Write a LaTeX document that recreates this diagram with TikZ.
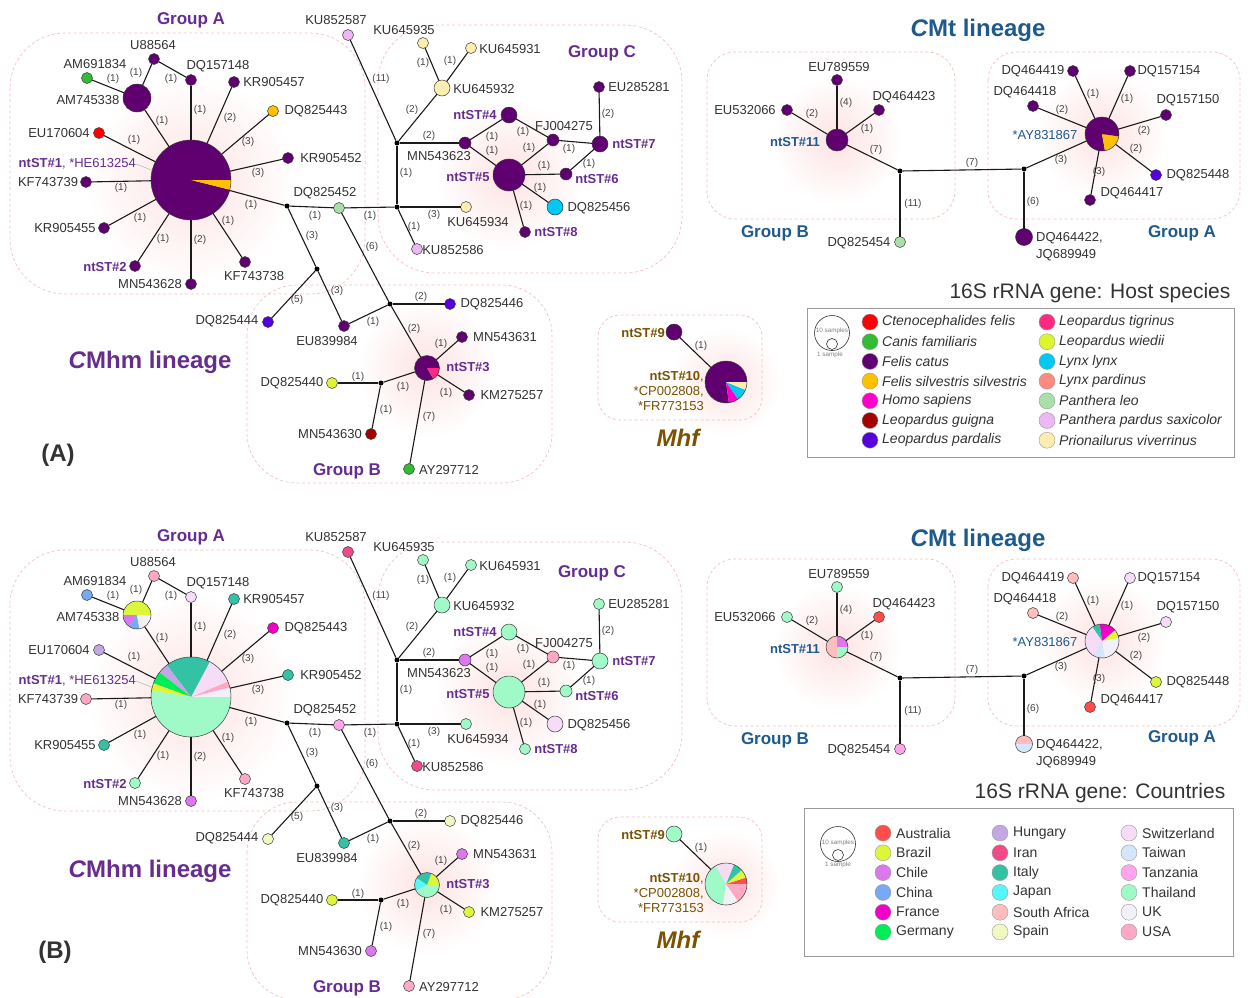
\documentclass[tikz,border=0pt]{standalone}
\usepackage{fontspec}
\setmainfont{Liberation Sans}
\usetikzlibrary{calc}
% host colours
\definecolor{h-cfel}{HTML}{FF0000}
\definecolor{h-cfam}{HTML}{33BB33}
\definecolor{h-fcat}{HTML}{600070}
\definecolor{h-fsil}{HTML}{FFC000}
\definecolor{h-hsap}{HTML}{FF00CC}
\definecolor{h-lgui}{HTML}{A30000}
\definecolor{h-lpar}{HTML}{5500DD}
\definecolor{h-ltig}{HTML}{FF2A80}
\definecolor{h-lwie}{HTML}{DDF530}
\definecolor{h-llyn}{HTML}{00C8F0}
\definecolor{h-lpdn}{HTML}{FF8A80}
\definecolor{h-pleo}{HTML}{A8E0A8}
\definecolor{h-ppsa}{HTML}{EDB6F5}
\definecolor{h-pviv}{HTML}{FFEDB0}
% country colours
\definecolor{k-aus}{HTML}{FF4D4D}
\definecolor{k-bra}{HTML}{DDF53A}
\definecolor{k-chi}{HTML}{DD77EE}
\definecolor{k-cn}{HTML}{77AAF5}
\definecolor{k-fra}{HTML}{F000C8}
\definecolor{k-ger}{HTML}{00EE55}
\definecolor{k-hun}{HTML}{C2A8E2}
\definecolor{k-iran}{HTML}{F04A8A}
\definecolor{k-ita}{HTML}{33C2A3}
\definecolor{k-jap}{HTML}{55F8FA}
\definecolor{k-saf}{HTML}{FFBEBE}
\definecolor{k-spa}{HTML}{F2F8C2}
\definecolor{k-swi}{HTML}{F7DCF8}
\definecolor{k-twn}{HTML}{D5E6FA}
\definecolor{k-tan}{HTML}{FFA5EC}
\definecolor{k-tha}{HTML}{A0FAC8}
\definecolor{k-uk}{HTML}{F2F0F8}
\definecolor{k-usa}{HTML}{FFA8C6}
% others
\definecolor{ndborder}{HTML}{3A3A3A}
\definecolor{lnkc}{HTML}{1A1A1A}
\definecolor{elc}{HTML}{444444}
\definecolor{labc}{HTML}{333333}
\definecolor{purp}{HTML}{662D91}
\definecolor{cblue}{HTML}{1F5A8C}
\definecolor{mbrown}{HTML}{7A5200}
\definecolor{boxc}{HTML}{F7C0C0}
\definecolor{glowc}{HTML}{FDE2E2}
\definecolor{legc}{HTML}{999999}

\tikzset{
 nd/.style={circle, draw=ndborder, line width=0.5pt, inner sep=0pt, outer sep=0pt},
 jn/.style={circle, fill=black, inner sep=0pt, minimum size=5pt},
 lnk/.style={draw=lnkc, line width=1.1pt},
 el/.style={font=\fontsize{10}{11}\selectfont, text=elc, inner sep=0pt},
 lbl/.style={font=\fontsize{13}{15}\selectfont, text=labc, inner sep=0pt},
 nst/.style={font=\fontsize{13}{15}\selectfont\bfseries, text=purp, inner sep=0pt},
 grp/.style={draw=boxc, dash pattern=on 3pt off 2.5pt, line width=0.7pt, rounded corners=#1},
 ttl/.style={font=\fontsize{17}{20}\selectfont\bfseries, inner sep=0pt},
 big/.style={font=\fontsize{24}{28}\selectfont\bfseries, inner sep=0pt},
 legdot/.style={circle, draw=gray!80, line width=0.4pt, minimum size=16pt, inner sep=0pt},
 legtxt/.style={anchor=west, font=\fontsize{14}{16}\selectfont, text=labc, inner sep=0pt},
 tinytxt/.style={font=\fontsize{6.3}{7}\selectfont, text=gray, inner sep=0pt},
 szc/.style={circle, draw=labc, line width=0.6pt, inner sep=0pt},
}

% pie node: #1 name, #2 centre, #3 radius, #4 list start/end/colour (angles ccw)
\newcommand{\pie}[4]{%
  \foreach \sa/\ea/\cc in {#4}{%
    \fill[fill=\cc] (#2) -- ++(-\sa:#3) arc[start angle=-\sa, end angle=-\ea, radius=#3] -- cycle;}%
  \node[nd, minimum size={2*#3pt}] (#1) at (#2) {};}

\newcommand{\leftnet}[2]{%
\draw[grp=55pt] (10,33) rectangle (365,294);
\draw[grp=57pt] (378,25) rectangle (682,273);
\draw[grp=50pt] (247,285) rectangle (552,483);
\foreach \n/\x/\y in {j1/287/206, j2/397/207, j3/317/269, j4/390/304, j5/381/383, j6/397/143}
  \node[jn] (#1\n) at (\x,\y) {};
\foreach \n/\x/\y/\rr/\ca/\cb in {am691/87/78/5.5/h-cfam/k-cn, u885/154/59/5.5/h-fcat/k-usa,
  dq1571/191/80/5.5/h-fcat/k-swi, kr9057/234/82/5.5/h-fcat/k-ita, dq8443/273/111/5.5/h-fsil/k-fra,
  kr9052/288/158/5.5/h-fcat/k-ita, eu1706/99/133/5.5/h-cfel/k-hun, kf7439/86/182/5.5/h-fcat/k-usa,
  kr9055/104/228/5.5/h-fcat/k-ita, nt2/135/266/5.5/h-fcat/k-tha, mn3628/191/284/5.5/h-fcat/k-chi,
  kf7438/245/262/5.5/h-fcat/k-usa, dq5452/339/208/5.5/h-pleo/k-tan, ku2587/348/35/5.5/h-ppsa/k-iran,
  ku5935/423/43/5.5/h-pviv/k-tha, ku5931/471/48/5.5/h-pviv/k-tha, ku5932/442/88/8/h-pviv/k-tha,
  eu5281/599/87/5.5/h-fcat/k-tha, nt4/509/115/8/h-fcat/k-tha, mn3623/465/143/6/h-fcat/k-chi,
  fj4275/553/140/6/h-fcat/k-usa, nt7/600/144/8/h-fcat/k-tha, nt5/509/175/16/h-fcat/k-tha,
  nt6/566/174/6/h-fcat/k-tha, dq5456/555/207/8/h-llyn/k-swi, nt8/525/232/5.5/h-fcat/k-tha,
  ku5934/466/207/5.5/h-pviv/k-tha, ku2586/417/249/5.5/h-ppsa/k-iran, dq5444/268/322/5.5/h-lpar/k-spa,
  eu9984/344/326/5.5/h-fcat/k-ita, dq5446/450/304/5.5/h-lpar/k-spa, mn3631/462/337/5.5/h-fcat/k-chi,
  km7257/469/395/5.5/h-fcat/k-bra, dq5440/332/383/5.5/h-lwie/k-bra, mn3630/371/434/5.5/h-lgui/k-chi,
  ay7712/409/469/5.5/h-cfam/k-usa}{%
  \ifnum#2=1 \def\cc{\ca}\else\def\cc{\cb}\fi
  \node[nd, minimum size={2*\rr pt}, fill=\cc] (#1\n) at (\x,\y) {};}
\ifnum#2=1
  \pie{#1n1}{191,180}{40}{0/346/h-fcat, 346/360/h-fsil}
  \pie{#1am745}{137,98}{14}{0/360/h-fcat}
  \pie{#1nt3}{427,368}{12.5}{0/300/h-fcat, 300/360/h-ltig}
\else
  \pie{#1n1}{191,180}{40}{0/14/k-uk, 14/23/k-usa, 23/62/k-swi, 62/127/k-ita, 127/142/k-hun, 142/160/k-ger, 160/171/k-bra, 171/360/k-tha}
  \pie{#1am745}{137,98}{14}{0/180/k-bra, 180/235/k-chi, 235/280/k-cn, 280/360/k-uk}
  \pie{#1nt3}{427,368}{12.5}{0/70/k-bra, 70/146/k-ita, 146/208/k-jap, 208/360/k-tha}
\fi
\foreach \na/\nb in {n1/am745, am745/am691, am745/u885, u885/dq1571, n1/dq1571, n1/kr9057, n1/dq8443,
  n1/kr9052, n1/eu1706, n1/kf7439, n1/kr9055, n1/nt2, n1/mn3628, n1/kf7438, n1/j1, j1/dq5452,
  dq5452/j2, j1/j3, j3/dq5444, j3/eu9984, eu9984/j4, j4/dq5446, dq5452/j4, j4/nt3, nt3/mn3631,
  nt3/km7257, nt3/j5, j5/dq5440, j5/mn3630, nt3/ay7712, j2/j6, j6/ku2587, j6/ku5932, ku5932/ku5935,
  ku5932/ku5931, j6/mn3623, mn3623/nt4, mn3623/nt5, nt4/fj4275, nt5/fj4275, fj4275/nt7, nt7/eu5281,
  nt5/nt6, nt6/nt7, nt5/dq5456, nt5/nt8, j2/ku5934, j2/ku2586}
  \draw[lnk] (#1\na) -- (#1\nb);
\foreach \x/\y/\tx in {113/79/(1), 136/73/(1), 171/79/(1), 162/121/(1), 200/110/(1), 230/118/(2),
  248/142/(3), 258/173/(3), 134/140/(1), 121/188/(1), 140/218/(1), 163/239/(1), 200/240/(2),
  228/221/(1), 251/205/(1), 315/216/(1), 370/216/(1), 312/236/(3), 337/291/(3), 297/300/(5),
  372/247/(6), 381/79/(11), 412/110/(2), 423/63/(1), 450/61/(1), 429/136/(2), 406/173/(1),
  434/215/(3), 414/227/(1), 492/137/(1), 492/151/(1), 523/132/(1), 529/148/(1), 569/149/(1),
  608/114/(2), 544/166/(1), 589/164/(1), 540/188/(1), 526/206/(1), 373/322/(1), 421/297/(2),
  414/329/(2), 441/344/(1), 446/393/(1), 403/387/(1), 358/377/(1), 386/410/(1), 429/417/(7)}
  \node[el] (#1e\x-\y) at (\x,\y) {\tx};
\foreach \x/\y/\tx in {95/64/AM691834, 153/45/U88564, 218/66/DQ157148, 274/82/KR905457,
  88/100/AM745338, 316/111/DQ825443, 59/133/EU170604, 331/158/KR905452, 48/182/KF743739,
  65/228/KR905455, 150/284/MN543628, 254/276/KF743738, 325/193/DQ825452, 336/20/KU852587,
  404/30/KU645935, 510/49/KU645931, 484/89/KU645932, 639/87/EU285281, 439/156/MN543623,
  564/126/FJ004275, 599/208/DQ825456, 478/222/KU645934, 453/250/KU852586, 227/321/DQ825444,
  327/341/EU839984, 492/304/DQ825446, 505/337/MN543631, 512/395/KM275257, 292/383/DQ825440,
  330/434/MN543630, 449/470/AY297712}
  \node[lbl] (#1t\x-\y) at (\x,\y) {\tx};
\foreach \x/\y/\tx in {105/267/ntST\#2, 475/115/ntST\#4, 634/144/ntST\#7, 468/177/ntST\#5,
  597/179/ntST\#6, 556/232/ntST\#8, 468/367/ntST\#3}
  \node[nst] (#1t\x-\y) at (\x,\y) {\tx};
\node[lbl, text=purp, anchor=east] (#1t1) at (136,164) {\textbf{ntST\#1}, *HE613254};
\draw[gray!70, line width=0.4pt] (#1t1.east) -- (#1n1.166);
}

\newcommand{\cmtnet}[2]{%
\draw[grp=28pt] (707,52) rectangle (955,219);
\draw[grp=28pt] (988,52) rectangle (1240,219);
\node[jn] (#1j7) at (900,171) {};
\node[jn] (#1j8) at (1024,169) {};
\foreach \n/\x/\y/\rr/\ca/\cb in {eu9559/837/80/5.5/h-fcat/k-tha, eu2066/787/110/5.5/h-fcat/k-tha,
  dq4423/879/110/5.5/h-fcat/k-aus, dq5454/900/242/5.5/h-pleo/k-tan, dq4419/1073/71/5.5/h-fcat/k-saf,
  dq7154/1130/71/5.5/h-fcat/k-swi, dq4418/1033/106/5.5/h-fcat/k-saf, dq7150/1166/115/5.5/h-fcat/k-swi,
  dq5448/1156/175/5.5/h-lpar/k-bra, dq4417/1090/200/5.5/h-fcat/k-aus}{%
  \ifnum#2=1 \def\cc{\ca}\else\def\cc{\cb}\fi
  \node[nd, minimum size={2*\rr pt}, fill=\cc] (#1\n) at (\x,\y) {};}
\ifnum#2=1
  \pie{#1nt11}{837,140}{11}{0/360/h-fcat}
  \pie{#1dq4422}{1024,237}{8.5}{0/360/h-fcat}
  \pie{#1ay1867}{1102,134}{17}{0/280/h-fcat, 280/352/h-fsil, 352/360/h-fcat}
\else
  \pie{#1nt11}{837,140}{11}{0/90/k-chi, 90/270/k-saf, 270/360/k-tha}
  \pie{#1dq4422}{1024,237}{8.5}{0/180/k-saf, 180/360/k-twn}
  \pie{#1ay1867}{1102,134}{17}{10/40/k-bra, 40/98/k-fra, 98/125/k-ita, 125/240/k-swi, 240/280/k-twn, 280/370/k-uk}
\fi
\foreach \na/\nb in {nt11/eu9559, nt11/eu2066, nt11/dq4423, nt11/j7, j7/j8, j7/dq5454, j8/dq4422,
  j8/ay1867, ay1867/dq4419, ay1867/dq7154, ay1867/dq4418, ay1867/dq7150, ay1867/dq5448, ay1867/dq4417}
  \draw[lnk] (#1\na) -- (#1\nb);
\foreach \x/\y/\tx in {846/103/(4), 812/114/(2), 867/129/(1), 876/150/(7), 972/163/(7), 913/204/(11),
  1033/202/(6), 1061/160/(3), 1093/94/(1), 1127/99/(1), 1062/110/(2), 1144/131/(2), 1136/149/(2), 1099/172/(3)}
  \node[el] (#1e\x-\y) at (\x,\y) {\tx};
\foreach \x/\y/\tx in {839/67/EU789559, 745/110/EU532066, 904/97/DQ464423, 859/243/DQ825454,
  1033/71/DQ464419, 1169/71/DQ157154, 1025/92/DQ464418, 1188/100/DQ157150, 1198/175/DQ825448,
  1132/193/DQ464417}
  \node[lbl] (#1t\x-\y) at (\x,\y) {\tx};
\node[nst, text=cblue] (#1t11) at (795,142) {ntST\#11};
\node[lbl, text=cblue] (#1tay) at (1045,135) {*AY831867};
\node[lbl, font=\fontsize{13}{17}\selectfont, anchor=west, align=left] (#1t22) at (1036,247) {DQ464422,\\JQ689949};
}

\newcommand{\mhfnet}[2]{%
\draw[grp=22pt] (598,315) rectangle (762,420);
\ifnum#2=1 \def\cc{h-fcat}\else\def\cc{k-tha}\fi
\node[nd, minimum size=16pt, fill=\cc] (#1nt9) at (674,332) {};
\ifnum#2=1
  \pie{#1nt10}{726,382}{21}{0/278/h-fcat, 278/305/h-hsap, 305/338/h-llyn, 338/360/h-pviv}
\else
  \pie{#1nt10}{726,382}{21}{0/18/k-aus, 18/42/k-bra, 42/68/k-ita, 68/120/k-swi, 120/262/k-tha, 262/305/k-uk, 305/360/k-usa}
\fi
\draw[lnk] (#1nt9) -- (#1nt10);
\node[el] (#1e9) at (701,346) {(1)};
\node[nst, text=mbrown, anchor=east] (#1t9) at (665,333) {ntST\#9};
\node[lbl, text=mbrown, anchor=east, align=right] (#1t10) at (704,391) {\textbf{ntST\#10},\\*CP002808,\\*FR773153};
}

\begin{document}
\begin{tikzpicture}[x=1pt, y=-1pt]
\useasboundingbox (0,0) rectangle (1248,997);
\fill[white] (0,0) rectangle (1248,997);
% glows
\foreach \x/\y/\rr in {191/180/105, 509/175/75, 427/368/70, 837/140/65, 1102/134/65, 726/382/55,
  191/697/105, 509/692/75, 427/885/70, 837/647/65, 1102/641/65, 726/884/55}
  \shade[inner color=glowc, outer color=white] (\x,\y) circle (\rr);

% ---------- panel A ----------
\leftnet{a}{1}
\cmtnet{a}{1}
\mhfnet{a}{1}
% ---------- panel B ----------
\begin{scope}[shift={(0,517)}]
\leftnet{b}{2}
\end{scope}
\begin{scope}[shift={(0,507)}]
\cmtnet{b}{2}
\end{scope}
\begin{scope}[shift={(0,502)}]
\mhfnet{b}{2}
\end{scope}

% titles A
\node[ttl, text=purp] (tGA1) at (191,20) {Group A};
\node[ttl, text=purp] (tGC1) at (602,53) {Group C};
\node[ttl, text=purp] (tGB1) at (347,471) {Group B};
\node[big, text=purp] (tCMhm1) at (150,362) {\textit{C}Mhm lineage};
\node[big, text=labc] (tA) at (58,455) {(A)};
\node[big, text=cblue] (tCMt1) at (978,30) {\textit{C}Mt lineage};
\node[ttl, text=cblue] (tCB1) at (775,233) {Group B};
\node[ttl, text=cblue] (tCA1) at (1182,233) {Group A};
\node[big, text=mbrown] (tM1) at (679,438) {\textit{Mhf}};
% titles B
\node[ttl, text=purp] (tGA2) at (191,537) {Group A};
\node[ttl, text=purp] (tGC2) at (592,573) {Group C};
\node[ttl, text=purp] (tGB2) at (347,988) {Group B};
\node[big, text=purp] (tCMhm2) at (150,871) {\textit{C}Mhm lineage};
\node[big, text=labc] (tB) at (55,952) {(B)};
\node[big, text=cblue] (tCMt2) at (978,540) {\textit{C}Mt lineage};
\node[ttl, text=cblue] (tCB2) at (775,740) {Group B};
\node[ttl, text=cblue] (tCA2) at (1182,738) {Group A};
\node[big, text=mbrown] (tM2) at (679,940) {\textit{Mhf}};

% legend A
\node[font=\fontsize{21}{24}\selectfont, text=labc, inner sep=0pt] (tL1) at (1090,293) {16S rRNA gene: Host species};
\draw[legc, line width=0.8pt] (807,308) rectangle (1234,457);
\node[szc, minimum size=35pt] (aS10) at (832,333) {};
\node[tinytxt] (aS10t) at (832,331) {10 samples};
\node[szc, minimum size=11pt] (aS1) at (832,344) {};
\node[tinytxt] (aS1t) at (830,355) {1 sample};
\foreach \i/\tx/\cl in {0/Ctenocephalides felis/h-cfel, 1/Canis familiaris/h-cfam, 2/Felis catus/h-fcat,
  3/Felis silvestris silvestris/h-fsil, 4/Homo sapiens/h-hsap, 5/Leopardus guigna/h-lgui, 6/Leopardus pardalis/h-lpar}{
  \node[legdot, fill=\cl] (aLd\i) at (870,{322+19.7*\i}) {};
  \node[legtxt] (aLt\i) at (882,{322+19.7*\i}) {\textit{\tx}};}
\foreach \i/\tx/\cl in {0/Leopardus tigrinus/h-ltig, 1/Leopardus wiedii/h-lwie, 2/Lynx lynx/h-llyn,
  3/Lynx pardinus/h-lpdn, 4/Panthera leo/h-pleo, 5/Panthera pardus saxicolor/h-ppsa, 6/Prionailurus viverrinus/h-pviv}{
  \node[legdot, fill=\cl] (aLe\i) at (1047,{322+19.7*\i}) {};
  \node[legtxt] (aLu\i) at (1059,{322+19.7*\i}) {\textit{\tx}};}

% legend B
\node[font=\fontsize{21}{24}\selectfont, text=labc, inner sep=0pt] (tL2) at (1100,793) {16S rRNA gene: Countries};
\draw[legc, line width=0.8pt] (804,808) rectangle (1233,956);
\node[szc, minimum size=35pt] (bS10) at (838,844) {};
\node[tinytxt] (bS10t) at (838,843) {10 samples};
\node[szc, minimum size=11pt] (bS1) at (838,855) {};
\node[tinytxt] (bS1t) at (838,865) {1 sample};
\foreach \i/\tx/\cl in {0/Australia/k-aus, 1/Brazil/k-bra, 2/Chile/k-chi, 3/China/k-cn, 4/France/k-fra, 5/Germany/k-ger}{
  \node[legdot, fill=\cl] (bLd\i) at (883,{833+19.8*\i}) {};
  \node[legtxt] (bLt\i) at (896,{833+19.8*\i}) {\tx};}
\foreach \i/\tx/\cl in {0/Hungary/k-hun, 1/Iran/k-iran, 2/Italy/k-ita, 3/Japan/k-jap, 4/South Africa/k-saf, 5/Spain/k-spa}{
  \node[legdot, fill=\cl] (bLe\i) at (1000,{833+19.8*\i}) {};
  \node[legtxt] (bLu\i) at (1013,{833+19.8*\i}) {\tx};}
\foreach \i/\tx/\cl in {0/Switzerland/k-swi, 1/Taiwan/k-twn, 2/Tanzania/k-tan, 3/Thailand/k-tha, 4/UK/k-uk, 5/USA/k-usa}{
  \node[legdot, fill=\cl] (bLf\i) at (1129,{833+19.8*\i}) {};
  \node[legtxt] (bLv\i) at (1142,{833+19.8*\i}) {\tx};}
\end{tikzpicture}
\end{document}
